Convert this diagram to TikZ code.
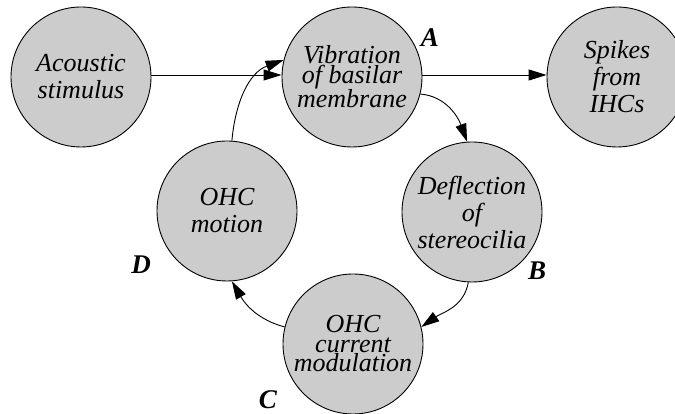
\documentclass[tikz,border=0pt]{standalone}
\usepackage{fontspec}
\setmainfont{Liberation Serif}[ItalicFont={Liberation Serif Italic},BoldItalicFont={Liberation Serif Bold Italic},BoldFont={Liberation Serif Bold}]
\usetikzlibrary{arrows.meta}
\begin{document}
\begin{tikzpicture}[x=1pt,y=1pt,
  stage/.style={circle,draw=black,line width=0.9pt,fill=black!20,minimum size=140pt,inner sep=0pt,align=center,font=\fontsize{26}{26}\selectfont\itshape},
  tight/.style={font=\fontsize{26}{19.5}\selectfont\itshape},
  loose/.style={font=\fontsize{26}{27}\selectfont\itshape},
  tag/.style={font=\fontsize{27}{27}\selectfont\bfseries\itshape,inner sep=0pt},
  conn/.style={line width=0.9pt,-{Triangle[length=18pt,width=11pt]}}]
\useasboundingbox (0,0) rectangle (675,414);
\clip (0,0) rectangle (675,414);
\node[stage,loose] (ac) at (81,337) {Acoustic\\stimulus};
\node[stage,tight] (vib) at (352,337) {Vibration\\of basilar\\membrane};
\node[stage,loose] (sp) at (617,337) {Spikes\\from\\IHCs};
\node[stage,loose] (def) at (472,202) {Deflection\\of\\stereocilia};
\node[stage,loose] (mot) at (227,203) {OHC\\motion};
\node[stage,tight] (cur) at (353,70) {OHC\\current\\modulation};
\node[tag] (la) at (430,376) {A};
\node[tag] (lb) at (537,143) {B};
\node[tag] (lc) at (268,14) {C};
\node[tag] (ld) at (141,149) {D};
\draw[conn] ([yshift=2pt]ac.east) -- ([yshift=2pt]vib.west);
\draw[conn] ([yshift=2pt]vib.east) -- ([yshift=2pt]sp.west);
\draw[conn] (vib.-14) to[out=-5,in=110] (def.94);
\draw[conn] (def.-93) to[out=-100,in=35] (cur.14);
\draw[conn] (cur.166) to[out=165,in=-60] (mot.-86);
\draw[conn] (mot.86) to[out=85,in=200] (vib.166);
\end{tikzpicture}
\end{document}
